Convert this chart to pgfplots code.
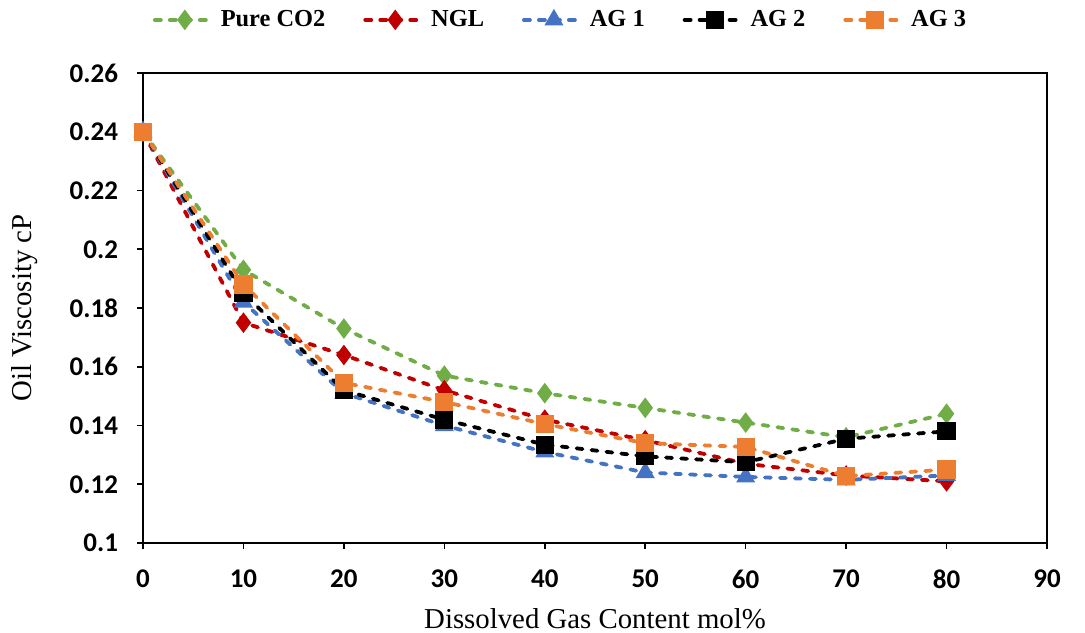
\documentclass[border=0pt]{standalone}
\usepackage{fontspec}
\setmainfont{Liberation Serif}
\newfontfamily\calibri{Carlito}
\usepackage{pgfplots}
\pgfplotsset{compat=1.18}
\definecolor{cgreen}{HTML}{70AD47}
\definecolor{cred}{HTML}{C00000}
\definecolor{cblue}{HTML}{4472C4}
\definecolor{corange}{HTML}{ED7D31}

\begin{document}
\begin{tikzpicture}
\begin{axis}[
  name=ax,
  scale only axis, width=452pt, height=235pt,
  xmin=0, xmax=90, ymin=0.1, ymax=0.26,
  xtick={0,10,...,90}, ytick={0.1,0.12,...,0.261},
  xtick pos=lower, ytick pos=left,
  axis line style={line width=1pt, -},
  tick style={black, line width=0.8pt},
  tick align=outside, major tick length=3pt,
  /pgf/number format/assume math mode=true,
  /pgf/number format/fixed,
  ticklabel style={font=\calibri\bfseries\fontsize{13.5}{15}\selectfont},
  yticklabel style={/pgf/number format/precision=2, xshift=-6pt},
  xticklabel style={yshift=-7pt},
  xlabel={Dissolved Gas Content mol\%}, ylabel={Oil Viscosity cP},
  label style={font=\fontsize{14.4}{16}\selectfont},
  xlabel style={at={(axis description cs:0.5,-0.16)}, anchor=center},
  ylabel style={at={(axis description cs:-0.1305,0.5)}, anchor=center},
  every axis plot/.append style={line width=1.9pt, dash pattern=on 3pt off 4.5pt, line cap=round},
  legend style={at={(0.463,1.113)}, anchor=center, draw=none, legend columns=-1,
    font=\bfseries\fontsize{12.2}{14}\selectfont,
    /tikz/every even column/.append style={column sep=17pt}},
  legend image code/.code={
    \draw[mark repeat=2,mark phase=2] plot coordinates {(0pt,0pt) (15pt,0pt) (30pt,0pt)};},
  clip=false]
\addplot[cgreen, mark=diamond*, mark size=3.6pt, mark options={solid}] coordinates {
  (0,0.240) (10,0.193) (20,0.173) (30,0.157) (40,0.151) (50,0.146) (60,0.141) (70,0.136) (80,0.144)};
\addlegendentry{Pure CO2}
\addplot[cred, mark=diamond*, mark size=3.6pt, mark options={solid}] coordinates {
  (0,0.240) (10,0.175) (20,0.164) (30,0.152) (40,0.142) (50,0.135) (60,0.127) (70,0.123) (80,0.121)};
\addlegendentry{NGL}
\addplot[cblue, mark=triangle*, mark size=3.6pt, mark options={solid}] coordinates {
  (0,0.240) (10,0.182) (20,0.151) (30,0.140) (40,0.131) (50,0.124) (60,0.1225) (70,0.1215) (80,0.123)};
\addlegendentry{AG 1}
\addplot[black, mark=square*, mark size=3.6pt, mark options={solid}] coordinates {
  (0,0.240) (10,0.185) (20,0.152) (30,0.142) (40,0.1335) (50,0.1295) (60,0.1275) (70,0.1355) (80,0.138)};
\addlegendentry{AG 2}
\addplot[corange, mark=square*, mark size=3.6pt, mark options={solid}] coordinates {
  (0,0.240) (10,0.188) (20,0.1545) (30,0.148) (40,0.1405) (50,0.134) (60,0.1327) (70,0.1228) (80,0.125)};
\addlegendentry{AG 3}
\end{axis}
\pgfresetboundingbox
\path ([xshift=-71.5pt,yshift=-44.5pt]ax.south west) rectangle ([xshift=19pt,yshift=36.5pt]ax.north east);
\end{tikzpicture}
\end{document}
